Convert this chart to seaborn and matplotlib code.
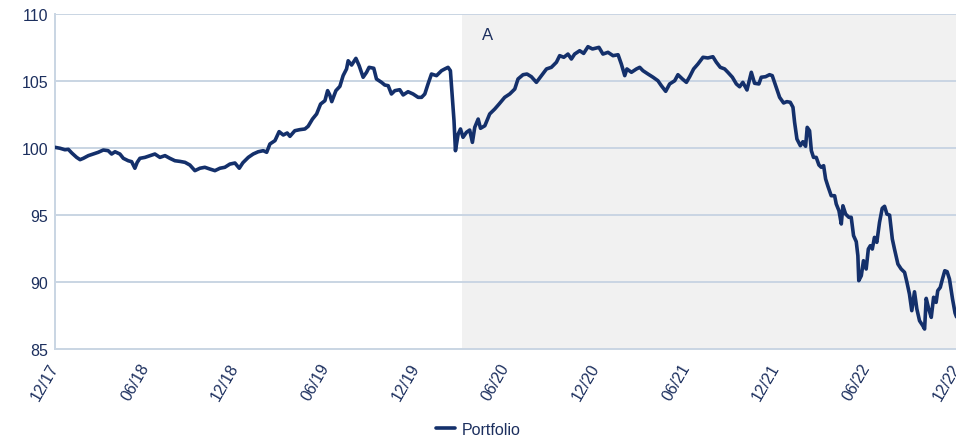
import numpy as np
import pandas as pd
import matplotlib
matplotlib.use("Agg")
import matplotlib.pyplot as plt
import seaborn as sns

# time in fractional years (2018.0 = end of Dec 2017)
t = [2018.000, 2018.028, 2018.055, 2018.074, 2018.093, 2018.120, 2018.139, 2018.157, 2018.185, 2018.212,
     2018.240, 2018.268, 2018.295, 2018.314, 2018.333, 2018.360, 2018.379, 2018.406, 2018.425, 2018.443,
     2018.456, 2018.471, 2018.499, 2018.527, 2018.554, 2018.582, 2018.610, 2018.637, 2018.665, 2018.693,
     2018.721, 2018.748, 2018.776, 2018.804, 2018.831, 2018.859, 2018.887, 2018.915, 2018.942, 2018.970,
     2018.998, 2019.022, 2019.042, 2019.072, 2019.099, 2019.127, 2019.155, 2019.174, 2019.192, 2019.220,
     2019.243, 2019.266, 2019.288, 2019.303, 2019.330, 2019.358, 2019.386, 2019.404, 2019.428, 2019.451,
     2019.473, 2019.497, 2019.512, 2019.524, 2019.535, 2019.558, 2019.580, 2019.598, 2019.617, 2019.626,
     2019.645, 2019.669, 2019.687, 2019.709, 2019.728, 2019.742, 2019.768, 2019.783, 2019.811, 2019.829,
     2019.848, 2019.866, 2019.885, 2019.912, 2019.931, 2019.958, 2019.986, 2020.014, 2020.033, 2020.051,
     2020.069, 2020.088, 2020.116, 2020.144, 2020.162, 2020.180, 2020.193, 2020.205, 2020.213, 2020.221,
     2020.236, 2020.249, 2020.263, 2020.282, 2020.300, 2020.315, 2020.328, 2020.347, 2020.360, 2020.384,
     2020.411, 2020.439, 2020.463, 2020.494, 2020.522, 2020.550, 2020.568, 2020.596, 2020.618, 2020.642,
     2020.670, 2020.698, 2020.726, 2020.753, 2020.781, 2020.799, 2020.822, 2020.845, 2020.864, 2020.882,
     2020.910, 2020.932, 2020.956, 2020.981, 2021.003, 2021.017, 2021.039, 2021.067, 2021.095, 2021.123,
     2021.141, 2021.160, 2021.172, 2021.197, 2021.225, 2021.243, 2021.261, 2021.289, 2021.317, 2021.344,
     2021.363, 2021.387, 2021.409, 2021.437, 2021.455, 2021.480, 2021.502, 2021.520, 2021.542, 2021.566,
     2021.594, 2021.621, 2021.649, 2021.668, 2021.690, 2021.714, 2021.732, 2021.757, 2021.779, 2021.797,
     2021.815, 2021.838, 2021.862, 2021.880, 2021.904, 2021.917, 2021.941, 2021.963, 2021.978, 2021.997,
     2022.019, 2022.041, 2022.059, 2022.078, 2022.093, 2022.102, 2022.115, 2022.134, 2022.148, 2022.163,
     2022.172, 2022.185, 2022.195, 2022.207, 2022.222, 2022.237, 2022.250, 2022.263, 2022.274, 2022.287,
     2022.305, 2022.324, 2022.333, 2022.348, 2022.361, 2022.370, 2022.385, 2022.403, 2022.416, 2022.429,
     2022.444, 2022.453, 2022.458, 2022.472, 2022.484, 2022.499, 2022.511, 2022.522, 2022.533, 2022.545,
     2022.558, 2022.573, 2022.588, 2022.601, 2022.614, 2022.629, 2022.644, 2022.656, 2022.675, 2022.693,
     2022.712, 2022.725, 2022.739, 2022.752, 2022.767, 2022.780, 2022.795, 2022.813, 2022.823, 2022.832,
     2022.846, 2022.860, 2022.873, 2022.887, 2022.896, 2022.910, 2022.922, 2022.935, 2022.948, 2022.961,
     2022.978, 2022.992, 2023.000]

portfolio = [100.05, 99.98, 99.87, 99.90, 99.63, 99.30, 99.13, 99.23, 99.43, 99.55,
             99.68, 99.85, 99.80, 99.55, 99.72, 99.55, 99.23, 99.05, 98.98, 98.49,
             98.93, 99.23, 99.30, 99.43, 99.55, 99.30, 99.43, 99.23, 99.05, 99.00,
             98.93, 98.73, 98.31, 98.49, 98.56, 98.43, 98.31, 98.49, 98.56, 98.80,
             98.88, 98.49, 98.90, 99.30, 99.55, 99.72, 99.80, 99.68, 100.30, 100.55,
             101.22, 100.97, 101.12, 100.87, 101.29, 101.37, 101.42, 101.62, 102.16, 102.54,
             103.28, 103.53, 104.28, 103.96, 103.46, 104.28, 104.60, 105.40, 105.90, 106.51,
             106.19, 106.69, 106.14, 105.28, 105.65, 106.02, 105.95, 105.15, 104.90, 104.70,
             104.65, 104.03, 104.28, 104.35, 103.96, 104.20, 104.03, 103.78, 103.78, 104.03,
             104.78, 105.52, 105.40, 105.77, 105.90, 106.02, 105.77, 103.53, 102.04, 99.80,
             101.04, 101.42, 100.80, 101.17, 101.34, 100.42, 101.54, 102.16, 101.47, 101.66,
             102.54, 102.91, 103.28, 103.78, 104.03, 104.40, 105.15, 105.47, 105.52, 105.32,
             104.90, 105.40, 105.90, 106.02, 106.40, 106.89, 106.77, 107.01, 106.64, 107.01,
             107.26, 107.06, 107.56, 107.39, 107.46, 107.51, 107.01, 107.14, 106.89, 106.96,
             106.27, 105.40, 105.90, 105.65, 105.90, 106.02, 105.77, 105.52, 105.28, 105.02,
             104.65, 104.23, 104.78, 105.02, 105.47, 105.15, 104.90, 105.32, 105.90, 106.27,
             106.77, 106.72, 106.81, 106.40, 106.02, 105.90, 105.65, 105.28, 104.78, 104.57,
             104.90, 104.33, 105.65, 104.83, 104.78, 105.28, 105.32, 105.47, 105.40, 104.65,
             103.78, 103.36, 103.46, 103.41, 103.04, 101.92, 100.67, 100.17, 100.47, 100.13,
             101.54, 101.29, 99.80, 99.30, 99.30, 98.73, 98.56, 98.68, 97.69, 97.14,
             96.44, 96.44, 95.82, 95.32, 94.33, 95.69, 95.07, 94.83, 94.83, 93.46,
             93.01, 91.96, 90.10, 90.47, 91.59, 90.97, 92.46, 92.71, 92.46, 93.33,
             92.96, 94.45, 95.50, 95.65, 95.07, 94.99, 93.21, 92.46, 91.34, 90.97,
             90.72, 89.98, 89.10, 87.86, 89.27, 87.99, 87.11, 86.74, 86.49, 88.78,
             87.99, 87.36, 88.86, 88.48, 89.35, 89.60, 90.22, 90.84, 90.77, 90.22,
             88.73, 87.69, 87.40]

tick_pos = [2018.0, 2018.5, 2019.0, 2019.5, 2020.0, 2020.5, 2021.0, 2021.5, 2022.0, 2022.5, 2023.0]
tick_labels = ["12/17", "06/18", "12/18", "06/19", "12/19", "06/20", "12/20", "06/21", "12/21", "06/22", "12/22"]
y_ticks = [85, 90, 95, 100, 105, 110]
shade_start = 2020.258
shade_label = "A"
series_name = "Portfolio"

sns.set_style("white")
plt.rcParams['font.family'] = ['Liberation Sans', 'DejaVu Sans']

navy = "#14306b"
text_col = "#1c2f5e"
grid_col = "#c9d5e3"

df = pd.DataFrame({"t": t, "value": portfolio, "series": series_name})

fig = plt.figure(figsize=(9.56, 4.39), dpi=100)
ax = fig.add_axes([55/956, 89/439, 901.5/956, 335/439])

ax.axvspan(shade_start, 2023.0, color="#f1f1f1", zorder=0, lw=0)
for yv in y_ticks[1:]:
    ax.axhline(yv, color=grid_col, lw=1.4, zorder=1)

sns.lineplot(data=df, x="t", y="value", hue="series", palette=[navy], ax=ax,
             lw=2.6, legend=False, zorder=3)

ax.set_xlim(2018.0, 2023.0)
ax.set_ylim(85, 110)
ax.set_yticks(y_ticks)
ax.set_yticklabels([str(v) for v in y_ticks], fontsize=11.5, color=text_col)
ax.set_xticks(tick_pos)
ax.set_xticklabels(tick_labels, fontsize=11.5, color=text_col, rotation=60,
                   ha="right", va="center", rotation_mode="anchor")
ax.tick_params(axis="x", length=8, width=1.2, color=grid_col, pad=3, direction="out")
ax.tick_params(axis="y", length=0, pad=5)
ax.set_xlabel("")
ax.set_ylabel("")

for s in ["top", "right"]:
    ax.spines[s].set_visible(False)
for s in ["left", "bottom"]:
    ax.spines[s].set_color(grid_col)
    ax.spines[s].set_linewidth(1.4)

ax.text(shade_start + 0.11, 108.5, shade_label, fontsize=12, color=text_col, va="center", ha="left")

from matplotlib.lines import Line2D
handle = Line2D([0], [0], color=navy, lw=2.6)
fig.legend([handle], [series_name], loc="center", bbox_to_anchor=(0.5, 0.02),
           frameon=False, fontsize=11.5, handlelength=1.2, handletextpad=0.4,
           labelcolor=text_col)

fig.savefig("out.png", dpi=100)
